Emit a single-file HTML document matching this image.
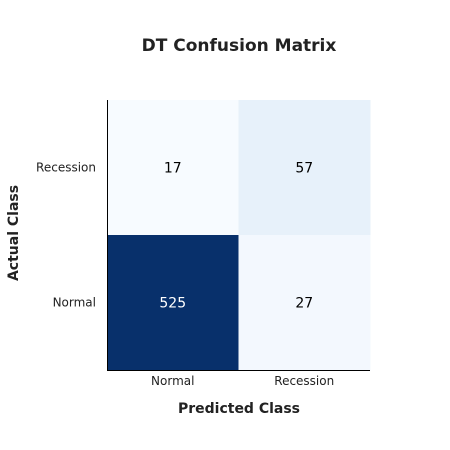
<!DOCTYPE html>
<html><head><meta charset="utf-8"><style>
html,body{margin:0;padding:0;background:#fff;}
svg{display:block;font-family:"DejaVu Sans","Liberation Sans",sans-serif;}
</style></head><body>
<svg id="chart" width="450" height="450" viewBox="0 0 450 450">
<text x="239" y="51" text-anchor="middle" font-size="17" font-weight="bold" fill="#222">DT Confusion Matrix</text>
<g id="cells"></g>
<line x1="107.5" y1="100" x2="107.5" y2="370.5" stroke="#000" stroke-width="1"/>
<line x1="107" y1="370.5" x2="370" y2="370.5" stroke="#000" stroke-width="1"/>
<text x="239" y="413" text-anchor="middle" font-size="14" font-weight="bold" fill="#222">Predicted Class</text>
<text transform="translate(18,233) rotate(-90)" text-anchor="middle" font-size="14" font-weight="bold" fill="#222">Actual Class</text>
</svg>
<script>
const xLabels = ["Normal","Recession"];
const yLabels = ["Recession","Normal"];
const values = [[17,57],[525,27]];
const stops = ["#f7fbff","#deebf7","#c6dbef","#9ecae1","#6baed6","#4292c6","#2171b5","#08519c","#08306b"];
const L=107,R=370,T=100,B=370;
const cw=(R-L)/xLabels.length, ch=(B-T)/yLabels.length;
const flat=values.flat(), vmin=Math.min(...flat), vmax=Math.max(...flat);
function hex(h){return [1,3,5].map(i=>parseInt(h.substr(i,2),16));}
function color(v){
  let t=(v-vmin)/(vmax-vmin)*(stops.length-1);
  let i=Math.min(Math.floor(t),stops.length-2), f=t-i;
  const a=hex(stops[i]), b=hex(stops[i+1]);
  return "rgb("+a.map((c,k)=>Math.round(c+(b[k]-c)*f)).join(",")+")";
}
const ns="http://www.w3.org/2000/svg";
const g=document.getElementById("cells");
const svg=document.getElementById("chart");
values.forEach((row,r)=>row.forEach((v,c)=>{
  const rect=document.createElementNS(ns,"rect");
  rect.setAttribute("x",L+c*cw);rect.setAttribute("y",T+r*ch);
  rect.setAttribute("width",cw+0.5);rect.setAttribute("height",ch+0.5);
  rect.setAttribute("fill",color(v));
  
  
  g.appendChild(rect);
  const t=document.createElementNS(ns,"text");
  t.setAttribute("x",L+(c+0.5)*cw);t.setAttribute("y",T+(r+0.5)*ch+5);
  t.setAttribute("text-anchor","middle");t.setAttribute("font-size","14");
  t.setAttribute("fill",(v-vmin)/(vmax-vmin)>0.5?"#fff":"#000");
  t.textContent=v;
  
  
  g.appendChild(t);
}));
xLabels.forEach((lab,i)=>{
  const t=document.createElementNS(ns,"text");
  t.setAttribute("x",L+(i+0.5)*cw);t.setAttribute("y",385);
  t.setAttribute("text-anchor","middle");t.setAttribute("font-size","12");t.setAttribute("fill","#222");
  t.textContent=lab;
  
  
  svg.appendChild(t);
});
yLabels.forEach((lab,i)=>{
  const t=document.createElementNS(ns,"text");
  t.setAttribute("x",96);t.setAttribute("y",T+(i+0.5)*ch+4);
  t.setAttribute("text-anchor","end");t.setAttribute("font-size","12");t.setAttribute("fill","#222");
  t.textContent=lab;
  
  
  svg.appendChild(t);
});
</script>
</body></html>
